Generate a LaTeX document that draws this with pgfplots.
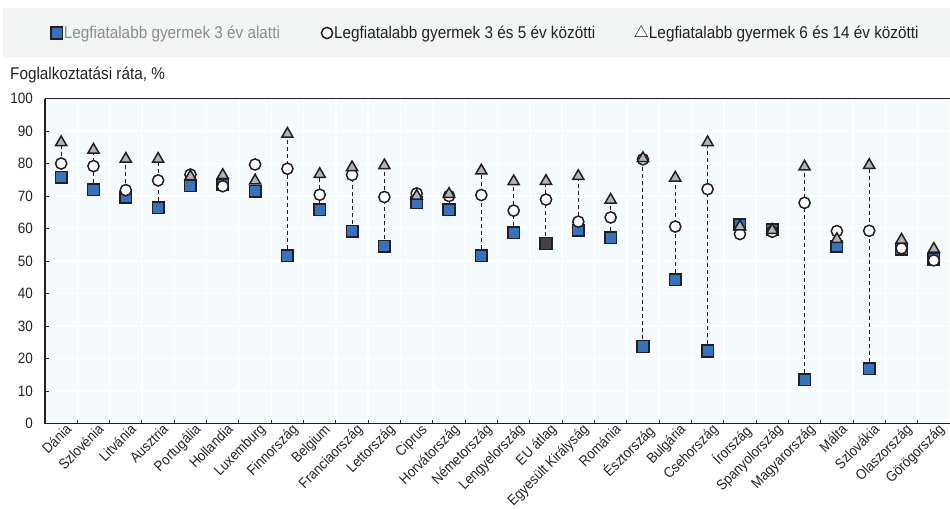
\documentclass[border=0pt]{standalone}
\usepackage{pgfplots}
\pgfplotsset{compat=1.18}
\usepackage{pgfplotstable}
\usepackage{fontspec}
\setmainfont{Liberation Sans}[FakeStretch=0.9]
\definecolor{sqblue}{RGB}{56,114,190}
\definecolor{trigray}{RGB}{180,180,180}
\definecolor{outl}{RGB}{35,31,32}
\definecolor{plotbg}{RGB}{245,251,252}
\definecolor{legbg}{RGB}{243,244,244}
\definecolor{txt}{RGB}{34,34,34}
\definecolor{legtxtgray}{RGB}{140,140,140}

\pgfplotstableread{
x a b c
0 75.8 80.0 86.5
1 71.9 79.2 84.2
2 69.6 71.8 81.4
3 66.4 74.8 81.4
4 73.2 76.6 76.0
5 73.5 73.0 76.4
6 71.5 79.7 74.7
7 51.6 78.4 89.1
8 65.8 70.4 76.7
9 59.2 76.5 78.8
10 54.5 69.7 79.4
11 68.0 70.8 70.0
12 65.8 70.0 70.6
13 51.6 70.3 77.8
14 58.7 65.5 74.5
15 55.4 68.9 74.6
16 59.5 62.1 76.1
17 57.2 63.4 68.8
18 23.7 81.3 81.6
19 44.2 60.6 75.6
20 22.3 72.1 86.5
21 61.1 58.3 60.6
22 59.6 59.0 59.5
23 13.5 67.9 79.0
24 54.6 59.2 56.7
25 16.9 59.3 79.5
26 53.6 53.9 56.5
27 50.6 50.2 53.7
}\datatable

\pgfplotstableread{
x a
15 55.4
}\eutable

\begin{document}
\begin{tikzpicture}
\useasboundingbox (0,0) rectangle (950bp,-509bp);
\fill[legbg] (3bp,-8bp) rectangle (950bp,-57bp);
\node[anchor=west, inner sep=0pt, text=txt, font=\fontsize{17bp}{20bp}\selectfont] at (10bp,-75bp) {Foglalkoztatási ráta, \%};
\begin{axis}[
  at={(45bp,-423.5bp)}, anchor=south west,
  scale only axis, width=905bp, height=325bp,
  xmin=-0.5, xmax=27.5, ymin=0, ymax=100,
  axis background/.style={fill=plotbg},
  axis x line*=bottom, axis y line*=left,
  axis line style={outl, line width=1.8bp},
  x axis line style={-}, y axis line style={-},
  xtick={0,...,27},
  xticklabels={Dánia,Szlovénia,Litvánia,Ausztria,Portugália,Hollandia,Luxemburg,Finnország,Belgium,Franciaország,Lettország,Ciprus,Horvátország,Németország,Lengyelország,EU átlag,Egyesült Királyság,Románia,Észtország,Bulgária,Csehország,Írország,Spanyolország,Magyarország,Málta,Szlovákia,Olaszország,Görögország},
  major x tick style={draw=none},
  minor xtick={-0.5,0.5,...,27.5},
  minor x tick style={outl, line width=1bp},
  minor tick length=4bp,
  xminorgrids, minor x grid style={white, line width=1.5bp},
  ytick={0,10,...,100},
  ymajorgrids, major y grid style={white, line width=1.5bp},
  major y tick style={outl, line width=1bp},
  major tick length=4bp,
  tick align=inside,
  /pgf/number format/assume math mode=true,
  yticklabel style={font=\fontsize{15bp}{17bp}\selectfont, text=txt, inner sep=0pt, xshift=-12bp},
  xticklabel style={font=\fontsize{14.5bp}{16bp}\selectfont, text=txt, rotate=45, anchor=north east, inner sep=1bp, xshift=4bp, yshift=-1bp},
  clip=false,
  legend columns=3,
  legend style={at={(0.4867,1.2015)}, anchor=center, draw=none, fill=none,
    font=\fontsize{17bp}{20bp}\selectfont, text=txt, inner sep=0pt,
    nodes={inner sep=1.5bp},
    /tikz/column 2/.style={column sep=40bp},
    /tikz/column 4/.style={column sep=38bp}},
  legend image code/.code={\draw[#1] plot coordinates {(0bp,0bp)};},
]
\draw[outl, line width=1bp] (rel axis cs:0,1) -- (rel axis cs:1,1);
% dashed ranges
\addplot[forget plot, draw=outl, line width=1bp, dash pattern=on 4bp off 3bp,
  quiver={u=0, v={max(\thisrow{a},\thisrow{b},\thisrow{c})-min(\thisrow{a},\thisrow{b},\thisrow{c})}}]
  table[x=x, y expr={min(\thisrow{a},\thisrow{b},\thisrow{c})}] {\datatable};
\addplot[only marks, mark=square*, mark size=5.8bp, mark options={fill=sqblue, draw=outl, line width=1.5bp}]
  table[x=x, y=a] {\datatable};
\addlegendentry{\textcolor{legtxtgray}{Legfiatalabb gyermek 3 év alatti}}
\addplot[forget plot, only marks, mark=square*, mark size=5.8bp, mark options={fill=outl!85, draw=outl, line width=1.5bp}]
  table[x=x, y=a] {\eutable};
\addplot[only marks, mark=*, mark size=5.6bp, mark options={fill=white, draw=outl, line width=1.5bp}]
  table[x=x, y=b] {\datatable};
\addlegendentry{Legfiatalabb gyermek 3 és 5 év közötti}
\addplot[only marks, mark=triangle*, mark size=6.4bp, mark options={fill=trigray, draw=outl, line width=1.5bp},
  legend image post style={mark options={fill=white, scale=1.15}}]
  table[x=x, y=c] {\datatable};
\addlegendentry{Legfiatalabb gyermek 6 és 14 év közötti}
\end{axis}
\end{tikzpicture}
\end{document}
